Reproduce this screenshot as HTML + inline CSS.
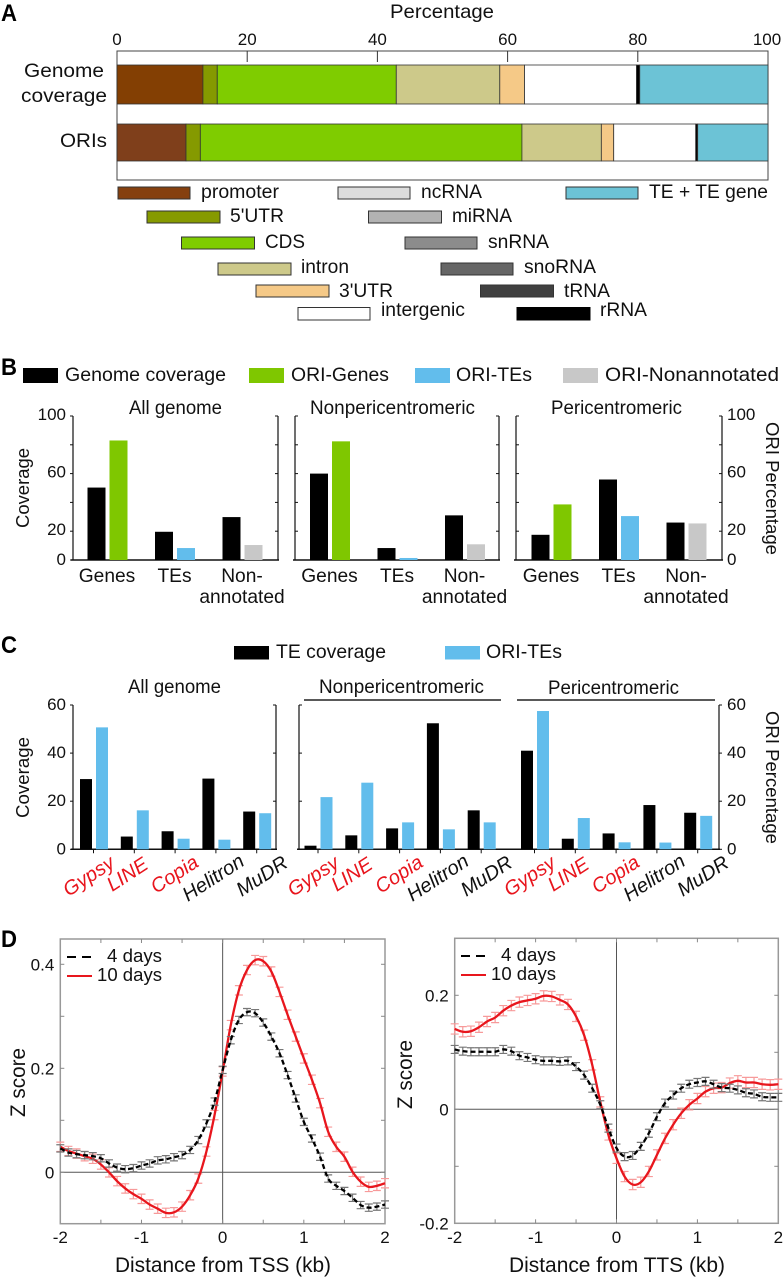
<!DOCTYPE html>
<html lang="en">
<head>
<meta charset="utf-8">
<title>ORI genomic distribution figure</title>
<style>
html,body{margin:0;padding:0;background:#fff;}
svg{display:block;}
text{font-family:"Liberation Sans",Arial,sans-serif;fill:#111;}
.l{font-size:19.5px;}
.p{font-size:24px;font-weight:bold;fill:#000;}
.d{font-size:20.8px;}
.k{font-size:18.6px;}
.r{font-size:18.3px;}
</style>
</head>
<body>
<svg id="fig" width="783" height="1280" viewBox="0 0 783 1280" xmlns="http://www.w3.org/2000/svg">
  <rect x="0" y="0" width="783" height="1280" fill="#fff"/>

  <!-- Panel A static -->
  <g id="panelA">
    <text class="p" x="1" y="21" textLength="16" lengthAdjust="spacingAndGlyphs">A</text>
    <text class="l" x="390" y="18" textLength="104" lengthAdjust="spacingAndGlyphs">Percentage</text>
    <rect x="117" y="51" width="651" height="129" fill="#fff" stroke="#444" stroke-width="1"/>
    <text class="l" x="24" y="77" textLength="80" lengthAdjust="spacingAndGlyphs">Genome</text>
    <text class="l" x="21" y="102" textLength="86" lengthAdjust="spacingAndGlyphs">coverage</text>
    <text class="l" x="60" y="147" textLength="47" lengthAdjust="spacingAndGlyphs">ORIs</text>

    <g><rect x="118" y="187" width="72" height="12" fill="#85400f" stroke="#333"/><text class="l" x="201" y="198" textLength="78" lengthAdjust="spacingAndGlyphs">promoter</text></g>
    <g><rect x="147" y="211" width="73" height="12" fill="#869a00" stroke="#333"/><text class="l" x="230" y="222" textLength="54" lengthAdjust="spacingAndGlyphs">5'UTR</text></g>
    <g><rect x="181.500" y="237" width="73" height="12" fill="#7fcc00" stroke="#333"/><text class="l" x="265" y="248" textLength="40" lengthAdjust="spacingAndGlyphs">CDS</text></g>
    <g><rect x="218" y="263" width="73" height="12" fill="#cdc98a" stroke="#333"/><text class="l" x="301" y="273" textLength="48" lengthAdjust="spacingAndGlyphs">intron</text></g>
    <g><rect x="256" y="285" width="73" height="12" fill="#f5c987" stroke="#333"/><text class="l" x="339" y="297" textLength="54" lengthAdjust="spacingAndGlyphs">3'UTR</text></g>
    <g><rect x="298" y="307.500" width="72" height="12.500" fill="#fff" stroke="#333"/><text class="l" x="381" y="316" textLength="84" lengthAdjust="spacingAndGlyphs">intergenic</text></g>
    <g><rect x="338" y="187" width="72" height="12" fill="#dcdcdc" stroke="#333"/><text class="l" x="421" y="198" textLength="61" lengthAdjust="spacingAndGlyphs">ncRNA</text></g>
    <g><rect x="368.500" y="211" width="73" height="12" fill="#b2b2b2" stroke="#333"/><text class="l" x="452" y="222" textLength="60" lengthAdjust="spacingAndGlyphs">miRNA</text></g>
    <g><rect x="405" y="237" width="72" height="12" fill="#8c8c8c" stroke="#333"/><text class="l" x="488" y="248" textLength="61" lengthAdjust="spacingAndGlyphs">snRNA</text></g>
    <g><rect x="441" y="263" width="72" height="12" fill="#666" stroke="#333"/><text class="l" x="524" y="273" textLength="72" lengthAdjust="spacingAndGlyphs">snoRNA</text></g>
    <g><rect x="480.500" y="285" width="73" height="12" fill="#404040" stroke="#333"/><text class="l" x="564" y="297" textLength="46" lengthAdjust="spacingAndGlyphs">tRNA</text></g>
    <g><rect x="517" y="307.500" width="73" height="12.500" fill="#000" stroke="#000"/><text class="l" x="600" y="316" textLength="47" lengthAdjust="spacingAndGlyphs">rRNA</text></g>
    <g><rect x="566" y="187" width="72" height="12" fill="#6cc3d6" stroke="#333"/><text class="l" x="649" y="198" textLength="119" lengthAdjust="spacingAndGlyphs">TE + TE gene</text></g>
  </g>

  <!-- Panel B static -->
  <g id="panelB">
    <text class="p" x="1" y="375" textLength="16" lengthAdjust="spacingAndGlyphs">B</text>
    <rect x="23" y="368" width="35" height="15" fill="#000"/>
    <text class="l" x="65" y="381" textLength="161" lengthAdjust="spacingAndGlyphs">Genome coverage</text>
    <rect x="249" y="368" width="35" height="15" fill="#7fc700"/>
    <text class="l" x="291" y="381" textLength="98" lengthAdjust="spacingAndGlyphs">ORI-Genes</text>
    <rect x="415" y="368" width="35" height="15" fill="#62bdec"/>
    <text class="l" x="456" y="381" textLength="76" lengthAdjust="spacingAndGlyphs">ORI-TEs</text>
    <rect x="563" y="368" width="35" height="15" fill="#c8c8c8"/>
    <text class="l" x="605" y="381" textLength="174" lengthAdjust="spacingAndGlyphs">ORI-Nonannotated</text>
    <text class="l" x="129" y="414" textLength="93" lengthAdjust="spacingAndGlyphs">All genome</text>
    <text class="l" x="310" y="414" textLength="165" lengthAdjust="spacingAndGlyphs">Nonpericentromeric</text>
    <text class="l" x="551" y="414" textLength="131" lengthAdjust="spacingAndGlyphs">Pericentromeric</text>
    <text class="r" transform="translate(29,528) rotate(-90)" textLength="80" lengthAdjust="spacingAndGlyphs">Coverage</text>
    <text class="r" transform="translate(766,422) rotate(90)" textLength="133" lengthAdjust="spacingAndGlyphs">ORI Percentage</text>
  </g>

  <!-- Panel C static -->
  <g id="panelC">
    <text class="p" x="1" y="653" textLength="16" lengthAdjust="spacingAndGlyphs">C</text>
    <rect x="234" y="646" width="35" height="13.500" fill="#000"/>
    <text class="l" x="276" y="658" textLength="110" lengthAdjust="spacingAndGlyphs">TE coverage</text>
    <rect x="445" y="646" width="35" height="13.500" fill="#62bdec"/>
    <text class="l" x="486" y="658" textLength="76" lengthAdjust="spacingAndGlyphs">ORI-TEs</text>
    <text class="l" x="128" y="693" textLength="93" lengthAdjust="spacingAndGlyphs">All genome</text>
    <text class="l" x="319" y="693" textLength="165" lengthAdjust="spacingAndGlyphs">Nonpericentromeric</text>
    <text class="l" x="548" y="694" textLength="131" lengthAdjust="spacingAndGlyphs">Pericentromeric</text>
    <line x1="304" y1="700" x2="501" y2="700" stroke="#222" stroke-width="1.500"/>
    <line x1="517" y1="700" x2="715" y2="700" stroke="#222" stroke-width="1.500"/>
    <text class="r" transform="translate(29,818) rotate(-90)" textLength="81" lengthAdjust="spacingAndGlyphs">Coverage</text>
    <text class="r" transform="translate(766,711) rotate(90)" textLength="133" lengthAdjust="spacingAndGlyphs">ORI Percentage</text>
  </g>

  <!-- Panel D static -->
  <g id="panelD">
    <text class="p" x="1" y="947" textLength="16" lengthAdjust="spacingAndGlyphs">D</text>
    <g id="plotL"></g>
    <g id="plotR"></g>
    <text class="d" x="115" y="1272" textLength="216" lengthAdjust="spacingAndGlyphs">Distance from TSS (kb)</text>
    <text class="d" x="509" y="1272" textLength="216" lengthAdjust="spacingAndGlyphs">Distance from TTS (kb)</text>
    <text class="d" transform="translate(25,1117) rotate(-90)" textLength="69" lengthAdjust="spacingAndGlyphs">Z score</text>
    <text class="d" transform="translate(412,1109) rotate(-90)" textLength="69" lengthAdjust="spacingAndGlyphs">Z score</text>

    <line x1="67" y1="957" x2="92" y2="957" stroke="#000" stroke-width="2" stroke-dasharray="9 6"/>
    <text class="k" x="107" y="962" textLength="55" lengthAdjust="spacingAndGlyphs">4 days</text>
    <line x1="67" y1="976" x2="92" y2="976" stroke="#e8161d" stroke-width="2"/>
    <text class="k" x="97" y="981" textLength="65" lengthAdjust="spacingAndGlyphs">10 days</text>

    <line x1="461" y1="956" x2="486" y2="956" stroke="#000" stroke-width="2" stroke-dasharray="9 6"/>
    <text class="k" x="501" y="961" textLength="55" lengthAdjust="spacingAndGlyphs">4 days</text>
    <line x1="461" y1="975" x2="486" y2="975" stroke="#e8161d" stroke-width="2"/>
    <text class="k" x="491" y="980" textLength="65" lengthAdjust="spacingAndGlyphs">10 days</text>
  </g>
</svg>

<script>
// ---------- Panel A data ----------
const aRows = ['genome', 'oris'];
const aSegments = ['promoter', '5utr', 'cds', 'intron', '3utr', 'intergenic', 'small-rna', 'te'];
const aGenome = [13.2, 2.2, 27.5, 15.9, 3.8, 17.2, 0.5, 19.7];
const aOris = [10.6, 2.2, 49.4, 12.2, 1.9, 12.6, 0.3, 10.8];
const aTicks = [0, 20, 40, 60, 80, 100];

// ---------- Panel B data ----------
const bCategories = ['Genes', 'TEs', 'Non-annotated'];
const bGroups = ['all-genome', 'nonpericentromeric', 'pericentromeric'];
const bCoverageAll = [50.3, 19.6, 29.8];
const bOriAll = [83, 8.3, 10.4];
const bCoverageNon = [60, 8.3, 31];
const bOriNon = [82.4, 1.4, 10.9];
const bCoveragePeri = [17.5, 55.9, 26];
const bOriPeri = [38.6, 30.5, 25.4];
const bTickLabels = [0, 20, 60, 100];
const bMinorTicks = [0, 20, 40, 60, 80, 100];

// ---------- Panel C data ----------
const cCategories = ['Gypsy', 'LINE', 'Copia', 'Helitron', 'MuDR'];
const cCoverageAll = [29.2, 5.3, 7.5, 29.4, 15.7];
const cOriAll = [50.7, 16.2, 4.4, 4, 15];
const cCoverageNon = [1.5, 5.8, 8.7, 52.4, 16.2];
const cOriNon = [21.7, 27.7, 11.2, 8.3, 11.2];
const cCoveragePeri = [41, 4.4, 6.6, 18.4, 15.2];
const cOriPeri = [57.5, 13, 2.9, 2.8, 13.9];
const cTicks = [0, 20, 40, 60];

// ---------- Panel D data ----------
const dKb = [-2,-1.9,-1.8,-1.7,-1.6,-1.5,-1.4,-1.3,-1.2,-1.1,-1,-0.9,-0.8,-0.7,-0.6,-0.5,-0.4,-0.3,-0.2,-0.1,0,0.1,0.2,0.3,0.4,0.5,0.6,0.7,0.8,0.9,1,1.1,1.2,1.3,1.4,1.5,1.6,1.7,1.8,1.9,2];
const tss4Days = [0.046,0.038,0.035,0.033,0.031,0.027,0.017,0.009,0.006,0.008,0.013,0.017,0.023,0.025,0.029,0.033,0.043,0.062,0.094,0.136,0.197,0.254,0.293,0.308,0.306,0.288,0.261,0.229,0.187,0.142,0.097,0.065,0.03,-0.012,-0.026,-0.036,-0.049,-0.063,-0.068,-0.066,-0.062];
const tss10Days = [0.049,0.041,0.036,0.031,0.026,0.015,0,-0.017,-0.031,-0.042,-0.051,-0.062,-0.07,-0.078,-0.077,-0.066,-0.044,-0.012,0.04,0.11,0.194,0.283,0.35,0.389,0.408,0.406,0.386,0.347,0.303,0.261,0.219,0.178,0.133,0.078,0.049,0.03,0.001,-0.018,-0.028,-0.026,-0.021];
const tts4Days = [0.105,0.102,0.101,0.101,0.101,0.101,0.105,0.102,0.094,0.091,0.087,0.085,0.085,0.084,0.085,0.075,0.06,0.037,0.008,-0.033,-0.068,-0.083,-0.081,-0.065,-0.042,-0.013,0.011,0.025,0.037,0.044,0.047,0.049,0.044,0.038,0.037,0.034,0.029,0.027,0.022,0.021,0.021];
const tts10Days = [0.141,0.136,0.137,0.144,0.154,0.161,0.173,0.182,0.188,0.191,0.194,0.199,0.198,0.192,0.184,0.163,0.13,0.078,0.013,-0.045,-0.086,-0.118,-0.132,-0.128,-0.109,-0.08,-0.051,-0.027,-0.007,0.008,0.019,0.031,0.037,0.038,0.046,0.05,0.047,0.047,0.044,0.043,0.044];
const tssError4Days = [0.007];
const tssError10Days = [0.009];
const ttsError4Days = [0.007];
const ttsError10Days = [0.009];
const dXTicks = [-2, -1, 0, 1, 2];
const dXMinor = [-1.5, -1, -0.5, 0, 0.5, 1, 1.5];
const tssYLabels = [0, 0.2, 0.4];
const tssYMinor = [0, 0.1, 0.2, 0.3, 0.4];
const ttsYLabels = [-0.2, 0, 0.2];
const ttsYMinor = [-0.1, 0, 0.1, 0.2];

// ---------- helpers ----------
const NS = 'http://www.w3.org/2000/svg';
function mk(tag, parent, attrs) {
  const node = document.createElementNS(NS, tag);
  for (const k in attrs) node.setAttribute(k, attrs[k]);
  parent.appendChild(node);
  return node;
}
function linear(d0, d1, r0, r1) {
  return function (v) { return r0 + (v - d0) * (r1 - r0) / (d1 - d0); };
}
function smoothPath(pts) {
  let d = 'M' + pts[0][0] + ' ' + pts[0][1];
  for (let i = 0; i < pts.length - 1; i++) {
    const p0 = pts[Math.max(i - 1, 0)];
    const p1 = pts[i];
    const p2 = pts[i + 1];
    const p3 = pts[Math.min(i + 2, pts.length - 1)];
    d += 'C' + (p1[0] + (p2[0] - p0[0]) / 6) + ' ' + (p1[1] + (p2[1] - p0[1]) / 6) + ' ' +
         (p2[0] - (p3[0] - p1[0]) / 6) + ' ' + (p2[1] - (p3[1] - p1[1]) / 6) + ' ' + p2[0] + ' ' + p2[1];
  }
  return d;
}

// ---------- Panel A ----------
(function () {
  const g = document.getElementById('panelA');
  const x = linear(0, 100, 117, 768);
  const genomeColors = ['#833f03', '#859a00', '#7fcc00', '#cdc98a', '#f5c987', '#ffffff', '#000000', '#6cc3d6'];
  const oriColors = ['#7f3f1b', '#859a00', '#7fcc00', '#cdc98a', '#f5c987', '#ffffff', '#000000', '#6cc3d6'];
  const layout = { genome: [65, 39, genomeColors, aGenome], oris: [124, 37, oriColors, aOris] };
  aRows.forEach(function (row) {
    const spec = layout[row];
    let acc = 0;
    spec[3].forEach(function (v, i) {
      const seg = mk('rect', g, { x: x(acc), y: spec[0], width: x(acc + v) - x(acc), height: spec[1], fill: spec[2][i], stroke: '#333', 'stroke-width': 0.8 });
      
      
      acc += v;
    });
  });
  aTicks.forEach(function (t) {
    if (t > 0 && t < 100) {
      const tick = mk('line', g, { x1: x(t), x2: x(t), y1: 51, y2: 62, stroke: '#333', 'stroke-width': 1 });
      
      
    }
    const lab = mk('text', g, { x: t === 100 ? x(t) - 1 : x(t), y: 45, 'text-anchor': 'middle', 'font-size': 17 });
    lab.textContent = t;
    
    
  });
})();

// ---------- Panel B ----------
(function () {
  const g = document.getElementById('panelB');
  const y = linear(0, 100, 560, 416);
  const plots = [
    { left: 73, right: 278, x0: 107, cov: bCoverageAll, ori: bOriAll },
    { left: 295, right: 499, x0: 329.5, cov: bCoverageNon, ori: bOriNon },
    { left: 516, right: 722, x0: 551, cov: bCoveragePeri, ori: bOriPeri }
  ];
  const step = 67.5;
  const oriColors = ['#7fc700', '#62bdec', '#c8c8c8'];
  plots.forEach(function (p, pi) {
    const base = mk('line', g, { x1: p.left - 2, x2: p.right + 1, y1: y(0), y2: y(0), stroke: '#111', 'stroke-width': 1.5 });
    
    
    [p.left, p.right].forEach(function (ax, side) {
      const axis = mk('line', g, { x1: ax, x2: ax, y1: y(0), y2: y(100), stroke: '#111', 'stroke-width': 1.2 });
      
      
      bMinorTicks.forEach(function (t) {
        const dir = side === 0 ? 1 : -1;
        const tick = mk('line', g, { x1: ax - (side === 0 && pi === 0 ? 3 : 0), x2: ax + (pi === 0 && side === 0 ? 0 : dir * 3), y1: y(t), y2: y(t), stroke: '#111', 'stroke-width': 1 });
        
        
      });
    });
    bCategories.forEach(function (c, i) {
      const cx = p.x0 + i * step;
      const b1 = mk('rect', g, { x: cx - 19.5, y: y(p.cov[i]), width: 18, height: y(0) - y(p.cov[i]), fill: '#000' });
      
      
      const b2 = mk('rect', g, { x: cx + 2.5, y: y(p.ori[i]), width: 18, height: y(0) - y(p.ori[i]), fill: oriColors[i] });
      
      
      const parts = c === 'Non-annotated' ? ['Non-', 'annotated'] : [c];
      parts.forEach(function (part, k) {
        const lab = mk('text', g, { x: cx, y: 582 + k * 21, 'text-anchor': 'middle', 'font-size': 19.2 });
        lab.textContent = part;
        
        
      });
    });
  });
  bTickLabels.forEach(function (t) {
    const l = mk('text', g, { x: 66, y: y(t) + (t === 0 ? 5 : 4), 'text-anchor': 'end', 'font-size': 17 });
    l.textContent = t;
    
    
    const r = mk('text', g, { x: 727, y: y(t) + (t === 0 ? 5 : 4), 'font-size': 17 });
    r.textContent = t;
    
    
  });
})();

// ---------- Panel C ----------
(function () {
  const g = document.getElementById('panelC');
  const y = linear(0, 60, 849.3, 705);
  const plots = [
    { name: 'all-genome', x0: 93.5, cov: cCoverageAll, ori: cOriAll },
    { name: 'nonpericentromeric', x0: 318, cov: cCoverageNon, ori: cOriNon },
    { name: 'pericentromeric', x0: 534.5, cov: cCoveragePeri, ori: cOriPeri }
  ];
  const step = 40.8;
  const labelDx = [-25, -22, -19, -28, -15];
  const labelY = [897, 892, 894, 902, 897];
  const redSet = ['Gypsy', 'LINE', 'Copia'];
  [[73, 276], [299, 719]].forEach(function (span, si) {
    const base = mk('line', g, { x1: span[0] - 2, x2: span[1] + 1, y1: y(0), y2: y(0), stroke: '#111', 'stroke-width': 1.5 });
    
    
    span.forEach(function (ax, side) {
      const axis = mk('line', g, { x1: ax, x2: ax, y1: y(0), y2: y(60), stroke: '#111', 'stroke-width': 1.2 });
      
      
      cTicks.forEach(function (t) {
        const dir = side === 0 ? -1 : 1;
        const tick = mk('line', g, { x1: ax, x2: ax + (si === 0 && side === 1 || si === 1 && side === 0 ? -dir * 3 : dir * 3), y1: y(t), y2: y(t), stroke: '#111', 'stroke-width': 1 });
        
        
      });
    });
  });
  plots.forEach(function (p) {
    cCategories.forEach(function (c, i) {
      const cx = p.x0 + i * step;
      const b1 = mk('rect', g, { x: cx - 13.5, y: y(p.cov[i]), width: 12, height: y(0) - y(p.cov[i]), fill: '#000' });
      
      
      const b2 = mk('rect', g, { x: cx + 2.5, y: y(p.ori[i]), width: 12, height: y(0) - y(p.ori[i]), fill: '#62bdec' });
      
      
      const tick = mk('line', g, { x1: cx, x2: cx, y1: y(0), y2: y(0) + 4, stroke: '#111', 'stroke-width': 1 });
      
      
      const lx = cx + labelDx[i];
      const ly = labelY[i];
      const lab = mk('text', g, { x: lx, y: ly, 'font-size': 20, 'font-style': 'italic', transform: 'rotate(-33 ' + lx + ' ' + ly + ')' });
      lab.style.fill = redSet.indexOf(c) >= 0 ? '#e8141c' : '#111';
      lab.textContent = c;
      
      
    });
  });
  cTicks.forEach(function (t) {
    const l = mk('text', g, { x: 66, y: y(t) + 5, 'text-anchor': 'end', 'font-size': 17 });
    l.textContent = t;
    
    
    const r = mk('text', g, { x: 727, y: y(t) + 5, 'font-size': 17 });
    r.textContent = t;
    
    
  });
})();

// ---------- Panel D ----------
function drawProfile(cfg) {
  const g = document.getElementById(cfg.id);
  const x = linear(-2, 2, cfg.left, cfg.right);
  const y = linear(0, cfg.refV, cfg.zeroY, cfg.refY);
  const frame = mk('rect', g, { x: cfg.left, y: cfg.top, width: cfg.right - cfg.left, height: cfg.bottom - cfg.top, fill: 'none', stroke: '#999', 'stroke-width': 1.5 });
  
  
  const v0 = mk('line', g, { x1: x(0), x2: x(0), y1: cfg.top, y2: cfg.bottom, stroke: '#555', 'stroke-width': 1 });
  
  
  const h0 = mk('line', g, { x1: cfg.left, x2: cfg.right, y1: y(0), y2: y(0), stroke: '#555', 'stroke-width': 1 });
  
  
  dXMinor.forEach(function (t) {
    const a = mk('line', g, { x1: x(t), x2: x(t), y1: cfg.bottom, y2: cfg.bottom - 4, stroke: '#888', 'stroke-width': 1 });
    
    
    const b = mk('line', g, { x1: x(t), x2: x(t), y1: cfg.top, y2: cfg.top + 4, stroke: '#888', 'stroke-width': 1 });
    
    
  });
  cfg.yMinor.forEach(function (t) {
    const a = mk('line', g, { x1: cfg.left, x2: cfg.left + 4, y1: y(t), y2: y(t), stroke: '#888', 'stroke-width': 1 });
    
    
    const b = mk('line', g, { x1: cfg.right, x2: cfg.right - 4, y1: y(t), y2: y(t), stroke: '#888', 'stroke-width': 1 });
    
    
  });
  dXTicks.forEach(function (t) {
    const lab = mk('text', g, { x: x(t), y: 1243, 'text-anchor': 'middle', 'font-size': 17 });
    lab.textContent = t;
    
    
  });
  cfg.yLabels.forEach(function (t) {
    const lab = mk('text', g, { x: cfg.left - 6, y: y(t) + 6, 'text-anchor': 'end', 'font-size': 17 });
    lab.textContent = t;
    
    
  });
  function series(values, err, line, errColor, dash, label) {
    const bars = [];
    values.forEach(function (v, i) {
      const px = x(dKb[i]);
      const hi = y(v + err);
      const lo = y(v - err);
      bars.push('M' + (px - 4) + ' ' + hi + 'H' + (px + 4) + 'M' + (px - 4) + ' ' + lo + 'H' + (px + 4) + 'M' + px + ' ' + hi + 'V' + lo);
    });
    const eb = mk('path', g, { d: bars.join(''), fill: 'none', stroke: errColor, 'stroke-width': 1.2 });
    
    
    const pts = values.map(function (v, i) { return [x(dKb[i]), y(v)]; });
    const attrs = { d: smoothPath(pts), fill: 'none', stroke: line, 'stroke-width': 2.3 };
    if (dash) attrs['stroke-dasharray'] = dash;
    const pl = mk('path', g, attrs);
    
    
  }
  series(cfg.red, cfg.errRed, '#e8161d', '#f79a9a', null, '10-days');
  series(cfg.black, cfg.errBlack, '#000', '#777', '5 3', '4-days');
}
drawProfile({ id: 'plotL', key: 'tss', left: 60.3, right: 385, top: 939, bottom: 1223.7, zeroY: 1172.3, refV: 0.4, refY: 964.3, yLabels: tssYLabels, yMinor: tssYMinor, red: tss10Days, black: tss4Days, errRed: tssError10Days[0], errBlack: tssError4Days[0] });
drawProfile({ id: 'plotR', key: 'tts', left: 454.7, right: 778.3, top: 938.3, bottom: 1223.3, zeroY: 1109.3, refV: 0.2, refY: 995.3, yLabels: ttsYLabels, yMinor: ttsYMinor, red: tts10Days, black: tts4Days, errRed: ttsError10Days[0], errBlack: ttsError4Days[0] });
</script>
</body>
</html>
